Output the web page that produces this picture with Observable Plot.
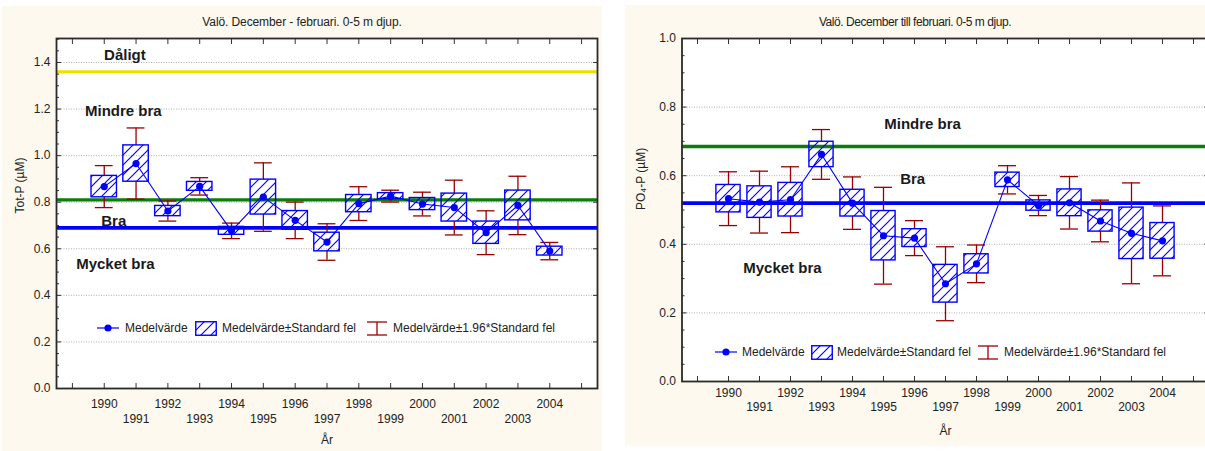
<!DOCTYPE html>
<html><head><meta charset="utf-8">
<script src="https://cdn.jsdelivr.net/npm/d3@7"></script>
<script src="https://cdn.jsdelivr.net/npm/@observablehq/plot@0.6"></script>
<style>
body{margin:0;background:#fff;width:1205px;height:451px;overflow:hidden;position:relative;font-family:"Liberation Sans",Arial,sans-serif;color:#222;}
.panel{position:absolute;background:#fdf9ee;overflow:hidden;}
.title{position:absolute;left:0;right:0;text-align:center;font-size:12px;line-height:14px;color:#222;}
.lg{position:absolute;font-size:12px;line-height:14px;white-space:nowrap;color:#222;}
.lgs{position:absolute;}
</style></head>
<body>
<div id="left" class="panel" style="left:2px;top:6px;width:600px;height:445px;">
  <div class="title" style="top:9px;letter-spacing:-0.1px;">Valö. December - februari. 0-5 m djup.</div>
</div>
<div id="right" class="panel" style="left:625px;top:5px;width:580px;height:441px;">
  <div class="title" style="top:10px;letter-spacing:-0.45px;">Valö. December till februari. 0-5 m djup.</div>
</div>
<script>
// ---- data ----
const years = [1990,1991,1992,1993,1994,1995,1996,1997,1998,1999,2000,2001,2002,2003,2004];
const evenYears = [1990,1992,1994,1996,1998,2000,2002,2004];
const oddYears = [1991,1993,1995,1997,1999,2001,2003];
const yearTicks = [1989,1990,1991,1992,1993,1994,1995,1996,1997,1998,1999,2000,2001,2002,2003,2004,2005];
const totpMean = [0.867,0.966,0.762,0.868,0.677,0.822,0.722,0.629,0.794,0.826,0.792,0.777,0.669,0.786,0.590];
const totpSE   = [0.046,0.078,0.022,0.019,0.017,0.075,0.040,0.040,0.037,0.013,0.026,0.060,0.048,0.064,0.019];
const po4Mean  = [0.533,0.523,0.530,0.662,0.520,0.425,0.418,0.285,0.343,0.588,0.513,0.521,0.468,0.432,0.410];
const po4SE    = [0.040,0.046,0.049,0.037,0.039,0.072,0.026,0.055,0.028,0.021,0.015,0.039,0.031,0.075,0.052];
const totpLimits = [1.36, 0.81, 0.69];
const po4Limits = [0.685, 0.52];
const totpZones = ["Dåligt","Mindre bra","Bra","Mycket bra"];
const po4Zones = ["Mindre bra","Bra","Mycket bra"];
const totpTicks = [0,0.2,0.4,0.6,0.8,1.0,1.2,1.4];
const po4Ticks = [0,0.2,0.4,0.6,0.8,1.0];
const legendLabels = ["Medelvärde","Medelvärde±Standard fel","Medelvärde±1.96*Standard fel"];

// ---- styles ----
const BLUE = "#0000ff", RED = "#990000";
const limitColors = {totp: ["#f0e000","#0b7d0b","#0000ff"], po4: ["#0b7d0b","#0000ff"]};
const FONT = "Liberation Sans, Arial, sans-serif";
const HATCH = `<path d="M-2.5,2.5 L2.5,-2.5 M0,10 L10,0 M7.5,12.5 L12.5,7.5" stroke="${BLUE}" stroke-width="1.15"/>`;

function makeChart(cfg) {
  const data = years.map((year, i) => ({year, mean: cfg.means[i], se: cfg.ses[i]}));
  const minor = d3.range(cfg.yDomain[0], cfg.yDomain[1] + 1e-9, 0.05).filter(v => !cfg.yTicks.some(t => Math.abs(t - v) < 1e-6));
  const hatch = `url(#${cfg.id}-hatch)`;
  const marks = [
    Plot.gridY({ticks: cfg.yTicks, stroke: "#9a9a9a", strokeOpacity: 1, strokeDasharray: "1,1.5", strokeWidth: 0.8}),
    ...cfg.limits.map((v, i) => Plot.ruleY([v], {stroke: cfg.limitColors[i], strokeWidth: cfg.limitWidths[i]})),
    Plot.text(cfg.zones, {x: (d, i) => cfg.zoneAnchors[i][0], y: (d, i) => cfg.zoneAnchors[i][1], text: d => d,
      fontSize: 15, fontWeight: "bold", fill: "#1a1a1a", fontFamily: FONT}),
    Plot.ruleX(data, {x: "year", y1: d => d.mean + d.se, y2: d => d.mean + 1.96 * d.se, stroke: RED, strokeWidth: 1.3}),
    Plot.ruleX(data, {x: "year", y1: d => d.mean - d.se, y2: d => d.mean - 1.96 * d.se, stroke: RED, strokeWidth: 1.3}),
    Plot.ruleY(data, {y: d => d.mean + 1.96 * d.se, x1: d => d.year - cfg.capHalf, x2: d => d.year + cfg.capHalf, stroke: RED, strokeWidth: 1.3}),
    Plot.ruleY(data, {y: d => d.mean - 1.96 * d.se, x1: d => d.year - cfg.capHalf, x2: d => d.year + cfg.capHalf, stroke: RED, strokeWidth: 1.3}),
    Plot.rect(data, {x1: d => d.year - cfg.boxHalf, x2: d => d.year + cfg.boxHalf, y1: d => d.mean - d.se, y2: d => d.mean + d.se,
      fill: hatch, stroke: BLUE, strokeWidth: 1.4}),
    Plot.line(data, {x: "year", y: "mean", stroke: BLUE, strokeWidth: 1.1}),
    Plot.dot(data, {x: "year", y: "mean", r: 3.6, fill: BLUE, stroke: "none"}),
    // axes
    Plot.axisY({ticks: cfg.yTicks, label: null, tickSize: 0, tickPadding: 6, tickFormat: d3.format(".1f"), fontSize: 12}),
    Plot.axisY({ticks: cfg.yTicks, label: null, tickSize: -5, tickFormat: () => "", stroke: "#333"}),
    Plot.axisY({ticks: minor, label: null, tickSize: -3, tickFormat: () => "", stroke: "#333"}),
    Plot.axisY({ticks: cfg.yTicks, label: null, anchor: "right", tickSize: -5, tickFormat: () => "", stroke: "#333"}),
    Plot.axisX({ticks: yearTicks, label: null, tickSize: -5, tickFormat: () => "", stroke: "#333"}),
    Plot.axisX({ticks: yearTicks, label: null, anchor: "top", tickSize: -5, tickFormat: () => "", stroke: "#333"}),
    Plot.axisX({ticks: evenYears, label: null, tickSize: 0, tickPadding: cfg.evenPad, tickFormat: d => `${d}`, fontSize: 12}),
    Plot.axisX({ticks: oddYears, label: null, tickSize: 0, tickPadding: cfg.oddPad, tickFormat: d => `${d}`, fontSize: 12}),
    Plot.text(["År"], {text: d => d, frameAnchor: "bottom", dy: cfg.xLabelDy, fontSize: 12, fill: "#222"}),
    Plot.text([cfg.yLabel], {text: d => d, frameAnchor: "left", rotate: -90, dx: cfg.yLabelDx, fontSize: 12, fill: "#222"}),
    Plot.frame({stroke: "#2a2a2a", strokeWidth: 1.8})
  ];
  const svg = Plot.plot({
    width: cfg.width, height: cfg.height,
    marginLeft: cfg.margin[3], marginRight: cfg.margin[1], marginTop: cfg.margin[0], marginBottom: cfg.margin[2],
    x: {domain: [1988.5, 2005.5], label: null},
    y: {domain: cfg.yDomain, label: null},
    style: {fontFamily: FONT, fontSize: "12px", color: "#222", background: "transparent", overflow: "visible"},
    marks
  });
  const ns = "http://www.w3.org/2000/svg";
  const defs = document.createElementNS(ns, "defs");
  defs.innerHTML = `<pattern id="${cfg.id}-hatch" patternUnits="userSpaceOnUse" width="10" height="10">${HATCH}</pattern>`;
  svg.insertBefore(defs, svg.firstChild);
  svg.style.position = "absolute";
  svg.style.left = "0px";
  svg.style.top = "0px";
  svg.style.maxWidth = "none";
  svg.style.width = cfg.width + "px";
  svg.style.height = cfg.height + "px";
  svg.style.background = "transparent";
  return svg;
}

function plotBg(cfg) {
  const bg = document.createElement("div");
  bg.style.cssText = `position:absolute;left:${cfg.margin[3]}px;top:${cfg.margin[0]}px;width:${cfg.width - cfg.margin[1] - cfg.margin[3]}px;height:${cfg.height - cfg.margin[0] - cfg.margin[2]}px;background:#fff;`;
  return bg;
}

function legend(parent, id, yc, pos) {
  const mk = (html, x) => {
    const s = document.createElement("div");
    s.className = "lgs";
    s.style.left = x + "px"; s.style.top = (yc - 7) + "px";
    s.innerHTML = html;
    parent.appendChild(s);
  };
  mk(`<svg width="22" height="14"><line x1="0" x2="22" y1="7" y2="7" stroke="${BLUE}" stroke-width="1.2"/><circle cx="11" cy="7" r="3.6" fill="${BLUE}"/></svg>`, pos[0]);
  mk(`<svg width="22" height="15"><defs><pattern id="${id}-lh" patternUnits="userSpaceOnUse" width="10" height="10">${HATCH}</pattern></defs><rect x="0.75" y="0.75" width="20.5" height="13.5" fill="url(#${id}-lh)" stroke="${BLUE}" stroke-width="1.4"/></svg>`, pos[2]);
  mk(`<svg width="22" height="15"><line x1="11" x2="11" y1="1" y2="14" stroke="${RED}" stroke-width="1.3"/><line x1="1" x2="21" y1="1" y2="1" stroke="${RED}" stroke-width="1.3"/><line x1="1" x2="21" y1="14" y2="14" stroke="${RED}" stroke-width="1.3"/></svg>`, pos[4]);
  [1, 3, 5].forEach((p, i) => {
    const t = document.createElement("div");
    t.className = "lg";
    t.style.left = pos[p] + "px"; t.style.top = (yc - 7) + "px";
    t.textContent = legendLabels[i];
    parent.appendChild(t);
  });
}

const leftCfg = {
  id: "totp", means: totpMean, ses: totpSE, yDomain: [0, 1.503], yTicks: totpTicks,
  limits: totpLimits, limitColors: limitColors.totp, limitWidths: [3.2, 3.4, 3.8],
  zones: totpZones, zoneAnchors: [[1990.65, 1.43], [1990.6, 1.189], [1990.3, 0.717], [1990.35, 0.535]],
  width: 600, height: 445, margin: [32, 5, 63, 54],
  boxHalf: 0.4, capHalf: 0.28, evenPad: 11, oddPad: 26, xLabelDy: 55, yLabelDx: -36, yLabel: "Tot-P (µM)"
};
const rightCfg = {
  id: "po4", means: po4Mean, ses: po4SE, yDomain: [0, 1.0], yTicks: po4Ticks,
  limits: po4Limits, limitColors: limitColors.po4, limitWidths: [3.4, 3.8],
  zones: po4Zones, zoneAnchors: [[1996.26, 0.75], [1995.94, 0.59], [1991.74, 0.331]],
  width: 600, height: 441, margin: [33, 16.5, 65, 56.5],
  boxHalf: 0.39, capHalf: 0.29, evenPad: 7, oddPad: 21, xLabelDy: 53, yLabelDx: -41, yLabel: "PO₄-P (µM)"
};

const L = document.getElementById("left"), R = document.getElementById("right");
L.appendChild(plotBg(leftCfg));
L.appendChild(makeChart(leftCfg));
R.appendChild(plotBg(rightCfg));
R.appendChild(makeChart(rightCfg));
// legend positions relative to panel (left panel starts at x=2,y=6; right at x=625,y=5)
legend(L, "lgL", 328 - 6, [95, 123, 193, 220, 364, 391]);
legend(R, "lgR", 352 - 5, [90, 117, 186, 212, 352, 379]);
</script>
</body></html>
